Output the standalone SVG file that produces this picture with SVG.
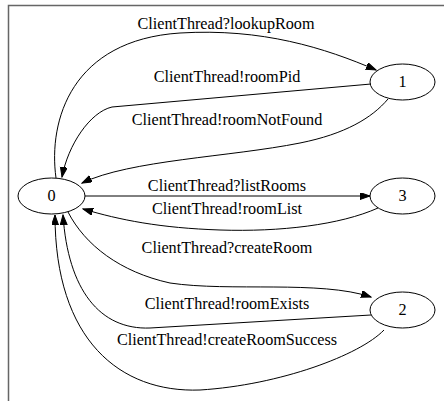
<svg xmlns="http://www.w3.org/2000/svg" width="444" height="401" viewBox="0 0 444 401">
<style>
.n ellipse{fill:none;stroke:#000;stroke-width:1}
text{font-family:"Liberation Serif","Times New Roman",serif;font-size:16.2px;fill:#000;text-anchor:middle}
.e path{fill:none;stroke:#000;stroke-width:1;marker-end:url(#ah)}
</style>
<defs>
<marker id="ah" markerUnits="userSpaceOnUse" markerWidth="11" markerHeight="8" refX="10" refY="3.5" orient="auto">
<path d="M0,0 L10,3.5 L0,7 Z" fill="#000" stroke="#000" stroke-width="1"/>
</marker>
</defs>
<rect width="444" height="401" fill="#fff"/>
<path d="M8.5,401 V5.5 H444" fill="none" stroke="#666" stroke-width="1.5"/>
<g id="edges" class="e">
<path d="M56,178 C48,120 72,40 180,33 C262,28 325,48 376,70"/>
<text x="226" y="29">ClientThread?lookupRoom</text>
<path d="M371,84 L112,107 C90,112 68,145 62,177"/>
<text x="227" y="81.5">ClientThread!roomPid</text>
<path d="M388,99 C372,118 345,134 300,143 C230,157 130,160 82,183"/>
<text x="227" y="125">ClientThread!roomNotFound</text>
<path d="M85,196 L370,196"/>
<text x="227" y="191">ClientThread?listRooms</text>
<path d="M378,208 C340,225 280,232 220,230 C160,228 120,220 83,209"/>
<text x="227" y="214">ClientThread!roomList</text>
<path d="M68,212 C85,245 120,272 170,283 C230,292 320,280 371,297"/>
<text x="227" y="253">ClientThread?createRoom</text>
<path d="M371,315 L150,328 C100,330 68,290 63,215"/>
<text x="227" y="309">ClientThread!roomExists</text>
<path d="M384,330 C360,355 280,385 200,390 C120,393 55,340 55,215"/>
<text x="227" y="345">ClientThread!createRoomSuccess</text>
</g>
<g id="node0" class="n"><ellipse cx="51.5" cy="196" rx="33.5" ry="18"/><text x="51.5" y="201">0</text></g>
<g id="node1" class="n"><ellipse cx="402.5" cy="82" rx="32.5" ry="18"/><text x="402.5" y="87">1</text></g>
<g id="node3" class="n"><ellipse cx="402.5" cy="196" rx="32.5" ry="18"/><text x="402.5" y="201">3</text></g>
<g id="node2" class="n"><ellipse cx="402.5" cy="310" rx="32.5" ry="18"/><text x="402.5" y="315">2</text></g>
</svg>
